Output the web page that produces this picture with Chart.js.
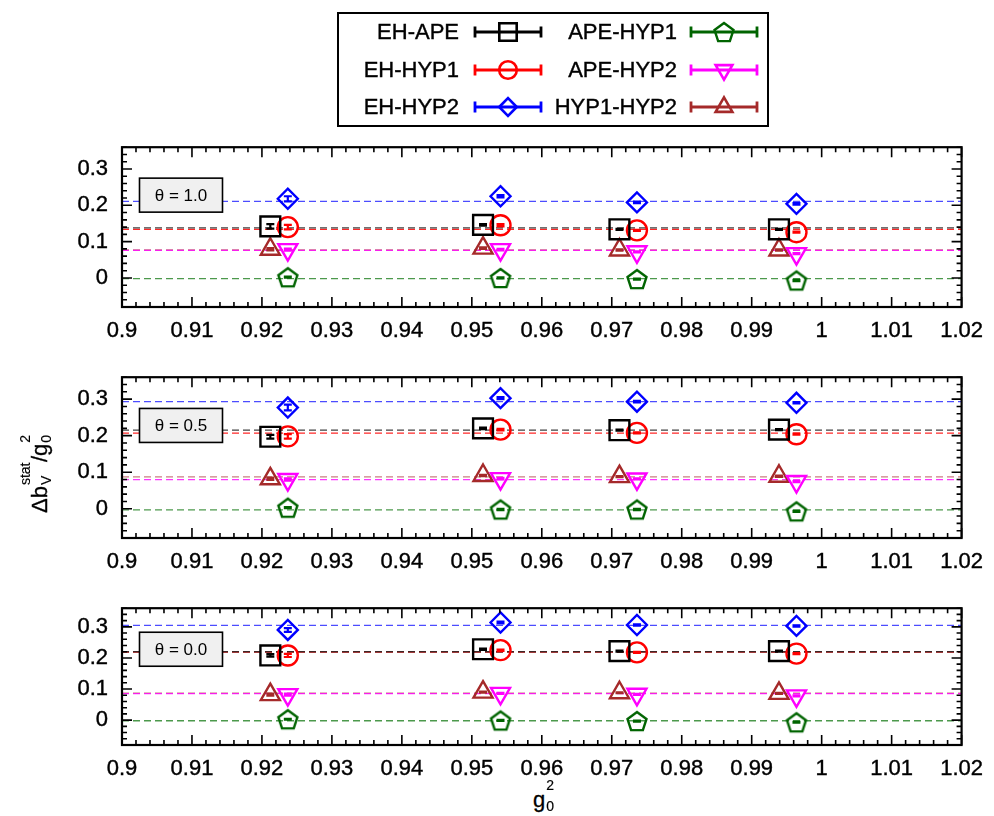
<!DOCTYPE html>
<html lang="en">
<head>
<meta charset="utf-8">
<title>Δb_V^stat / g0^2</title>
<script src="https://cdn.jsdelivr.net/npm/chart.js@4.4.1/dist/chart.umd.min.js"></script>
<style>
  html, body { margin: 0; padding: 0; background: #fff; }
  body { font-family: "Liberation Sans", Arial, sans-serif; color: #000; }
  #page { position: relative; width: 994px; height: 816px; overflow: hidden; }
  .panel { position: absolute; left: 0; }
  #legendBox { position: absolute; left: 337px; top: 12px; width: 428px; height: 111px; border: 2px solid #000; }
  #legendMarks { position: absolute; left: 0; top: 0; }
  .key { position: absolute; font-size: 22px; line-height: 22px; white-space: nowrap; -webkit-text-stroke: 0.4px #000; }
  #ytitle { position: absolute; left: 29px; top: 513px; font-size: 22px; line-height: 22px; white-space: nowrap;
            transform-origin: 0 0; transform: rotate(-90deg); -webkit-text-stroke: 0.3px #000; }
  #xtitle { position: absolute; left: 533px; top: 789px; font-size: 22px; line-height: 22px; white-space: nowrap; -webkit-text-stroke: 0.3px #000; }
  .ss { position: relative; display: inline-block; height: 1px; }
  .ss span { position: absolute; left: 1px; font-size: 14px; line-height: 14px; -webkit-text-stroke: 0.2px #000; }
  .ss .up { top: -28px; }
  .ss .dn { top: -7px; }
</style>
</head>
<body>
<div id="page">
  <div id="legendBox"></div>
  <canvas id="legendMarks" width="994" height="130"></canvas>
  <div id="legendText"></div>

  <canvas id="panelTheta10" class="panel" width="994" height="225" style="top:120px"></canvas>
  <canvas id="panelTheta05" class="panel" width="994" height="226" style="top:350px"></canvas>
  <canvas id="panelTheta00" class="panel" width="994" height="202" style="top:581px"></canvas>

  <div id="ytitle">Δb<span class="ss" style="width:24px"><span class="up">stat</span><span class="dn">V</span></span>/g<span class="ss" style="width:9px"><span class="up">2</span><span class="dn">0</span></span></div>
  <div id="xtitle">g<span class="ss" style="width:9px"><span class="up">2</span><span class="dn">0</span></span></div>
</div>

<script>
// g0^2 of the four ensembles. EH-APE and HYP1-HYP2 sit a little to the left
// so that the symbols do not cover each other.
const g0sq = [0.9237, 0.9541, 0.9736, 0.9964];
const g0sqShifted = [0.9212, 0.9516, 0.9711, 0.9939];

const seriesNames = ['EH-APE', 'EH-HYP1', 'EH-HYP2', 'APE-HYP1', 'APE-HYP2', 'HYP1-HYP2'];
const thetaLabels = ['θ = 1.0', 'θ = 0.5', 'θ = 0.0'];

// axes
const xRange = [0.9, 1.02];
const xMajorStep = 0.01, xMinorStep = 0.002;
const yRange = [-0.08, 0.36];
const yMajorStep = 0.1, yMinorStep = 0.02;

// theta = 1.0 : rows follow seriesNames
const dbTheta10 = [
    [0.142, 0.146, 0.134, 0.134],
    [0.140, 0.145, 0.131, 0.126],
    [0.218, 0.225, 0.208, 0.204],
    [0.002, 0.000, -0.003, -0.007],
    [0.078, 0.078, 0.072, 0.067],
    [0.079, 0.082, 0.077, 0.077]
];
const errTheta10 = [
    [0.006, 0.002, 0.0015, 0.0015],
    [0.006, 0.003, 0.0015, 0.0015],
    [0.007, 0.003, 0.002, 0.002],
    [0.0015, 0.0015, 0.0015, 0.0015],
    [0.003, 0.002, 0.0015, 0.0015],
    [0.003, 0.002, 0.0015, 0.0015]
];
const fitTheta10 = [0.138, 0.134, 0.211, -0.002, 0.076, 0.077];

// theta = 0.5
const dbTheta05 = [
    [0.197, 0.220, 0.215, 0.2165],
    [0.198, 0.2165, 0.2076, 0.204],
    [0.277, 0.3026, 0.293, 0.290],
    [0.003, -0.002, -0.002, -0.007],
    [0.080, 0.0825, 0.0816, 0.0745],
    [0.082, 0.091, 0.088, 0.089]
];
const errTheta05 = [
    [0.005, 0.002, 0.0015, 0.0015],
    [0.006, 0.002, 0.0015, 0.0015],
    [0.008, 0.003, 0.002, 0.002],
    [0.0015, 0.0015, 0.0015, 0.0015],
    [0.003, 0.002, 0.0015, 0.0015],
    [0.003, 0.002, 0.0015, 0.0015]
];
const fitTheta05 = [0.215, 0.207, 0.293, -0.003, 0.080, 0.087];

// theta = 0.0
const dbTheta00 = [
    [0.208, 0.228, 0.222, 0.222],
    [0.208, 0.225, 0.218, 0.214],
    [0.290, 0.314, 0.306, 0.303],
    [0.003, -0.001, -0.003, -0.007],
    [0.082, 0.086, 0.083, 0.078],
    [0.082, 0.090, 0.088, 0.086]
];
const errTheta00 = [
    [0.004, 0.002, 0.0015, 0.0015],
    [0.005, 0.002, 0.0015, 0.0015],
    [0.006, 0.003, 0.002, 0.002],
    [0.0015, 0.0015, 0.0015, 0.0015],
    [0.003, 0.002, 0.0015, 0.0015],
    [0.003, 0.002, 0.0015, 0.0015]
];
const fitTheta00 = [0.220, 0.219, 0.305, -0.002, 0.085, 0.087];

// symbol styles, same order as seriesNames
const colors = ['#000000', '#ff0000', '#0000ff', '#006400', '#ff00ff', '#a52a2a'];
const fitColors = ['rgba(0,0,0,0.75)', 'rgba(255,0,0,0.85)', 'rgba(0,0,255,0.7)',
                   'rgba(0,110,0,0.7)', 'rgba(255,0,255,0.8)', 'rgba(165,42,42,0.6)'];
const markerRadius = [14, 10, 10, 10, 11, 11];
const markerRotation = [0, 0, 0, 0, 180, 0];
const usesShiftedX = [true, false, false, false, false, true];

Chart.defaults.font.family = '"Liberation Sans", Arial, sans-serif';
Chart.defaults.color = '#000';

// hollow pentagon used as a point style
function makePentagon(color) {
    const c = document.createElement('canvas');
    c.width = 26; c.height = 26;
    const g = c.getContext('2d');
    g.strokeStyle = color;
    g.lineWidth = 2.4;
    g.beginPath();
    for (let k = 0; k < 5; k++) {
        const a = -Math.PI / 2 + k * 2 * Math.PI / 5;
        const px = 13 + 10 * Math.cos(a), py = 14 + 10 * Math.sin(a);
        if (k === 0) g.moveTo(px, py); else g.lineTo(px, py);
    }
    g.closePath();
    g.stroke();
    return c;
}

const pentagon = makePentagon(colors[3]);
const markerStyles = ['rect', 'circle', 'rectRot', pentagon, 'triangle', 'triangle'];

// error bars, frame with inward ticks on all four sides, and the theta box
const panelDecor = {
    id: 'panelDecor',
    afterDatasetsDraw(chart) {
        const ctx = chart.ctx, yScale = chart.scales.y;
        ctx.save();
        ctx.lineWidth = 2.2;
        chart.data.datasets.forEach((ds, i) => {
            if (!ds.errors) return;
            const meta = chart.getDatasetMeta(i);
            ctx.strokeStyle = ds.pointBorderColor;
            ctx.beginPath();
            meta.data.forEach((pt, j) => {
                const v = ds.data[j].y, e = ds.errors[j];
                const y1 = yScale.getPixelForValue(v - e), y2 = yScale.getPixelForValue(v + e);
                ctx.moveTo(pt.x, y1); ctx.lineTo(pt.x, y2);
                ctx.moveTo(pt.x - 4, y1); ctx.lineTo(pt.x + 4, y1);
                ctx.moveTo(pt.x - 4, y2); ctx.lineTo(pt.x + 4, y2);
            });
            ctx.stroke();
        });
        ctx.restore();
    },
    afterDraw(chart, args, opts) {
        const ctx = chart.ctx, a = chart.chartArea;
        const xs = chart.scales.x, ys = chart.scales.y;
        ctx.save();
        ctx.strokeStyle = '#000';
        ctx.lineWidth = 1.6;
        ctx.beginPath();

        const nx = Math.round((xs.max - xs.min) / xMinorStep);
        for (let k = 0; k <= nx; k++) {
            const v = xs.min + k * xMinorStep;
            const major = Math.abs(v / xMajorStep - Math.round(v / xMajorStep)) < 1e-6;
            const len = major ? 10 : 5;
            const px = xs.getPixelForValue(v);
            ctx.moveTo(px, a.bottom); ctx.lineTo(px, a.bottom - len);
            ctx.moveTo(px, a.top); ctx.lineTo(px, a.top + len);
        }
        const ny = Math.round((ys.max - ys.min) / yMinorStep);
        for (let k = 0; k <= ny; k++) {
            const v = ys.min + k * yMinorStep;
            const major = Math.abs(v / yMajorStep - Math.round(v / yMajorStep)) < 1e-6;
            const len = major ? 10 : 5;
            const py = ys.getPixelForValue(v);
            ctx.moveTo(a.left, py); ctx.lineTo(a.left + len, py);
            ctx.moveTo(a.right, py); ctx.lineTo(a.right - len, py);
        }
        ctx.stroke();

        ctx.lineWidth = 2.2;
        ctx.strokeRect(a.left, a.top, a.right - a.left, a.bottom - a.top);

        // theta label
        const cx = a.left + 59, cy = a.top + 0.3 * (a.bottom - a.top);
        ctx.fillStyle = '#f0f0f0';
        ctx.fillRect(cx - 41.5, cy - 17, 83, 34);
        ctx.lineWidth = 1.6;
        ctx.strokeRect(cx - 41.5, cy - 17, 83, 34);
        ctx.fillStyle = '#000';
        ctx.font = '17px "Liberation Sans", Arial, sans-serif';
        ctx.textAlign = 'center';
        ctx.textBaseline = 'middle';
        ctx.fillText(opts.label, cx, cy + 1);
        ctx.restore();
    }
};

function buildPanel(canvasId, values, errors, fits, label) {
    const datasets = [];

    // constant fits, drawn underneath the points
    fits.forEach((f, i) => {
        datasets.push({
            type: 'line',
            label: seriesNames[i] + ' fit',
            data: [{ x: xRange[0], y: f }, { x: xRange[1], y: f }],
            borderColor: fitColors[i],
            borderWidth: 1.3,
            borderDash: [7, 4],
            pointRadius: 0,
            order: 1
        });
    });

    values.forEach((row, i) => {
        const xs = usesShiftedX[i] ? g0sqShifted : g0sq;
        datasets.push({
            type: 'scatter',
            label: seriesNames[i],
            data: row.map((v, j) => ({ x: xs[j], y: v })),
            errors: errors[i],
            pointStyle: markerStyles[i],
            pointRotation: markerRotation[i],
            pointRadius: markerRadius[i],
            pointBorderWidth: 2.4,
            pointBorderColor: colors[i],
            pointBackgroundColor: 'rgba(0,0,0,0)',
            order: 0
        });
    });

    const tickFont = { size: 22 };
    const ctx = document.getElementById(canvasId).getContext('2d');
    return new Chart(ctx, {
        type: 'scatter',
        data: { datasets: datasets },
        options: {
            responsive: false,
            animation: false,
            events: [],
            layout: { padding: { top: 20, right: 27, left: 0, bottom: 0 } },
            scales: {
                x: {
                    type: 'linear',
                    min: xRange[0],
                    max: xRange[1],
                    grid: { display: false, drawTicks: false },
                    border: { display: false },
                    ticks: {
                        stepSize: xMajorStep,
                        autoSkip: false,
                        maxRotation: 0,
                        padding: 11,
                        font: tickFont,
                        textStrokeColor: '#000',
                        textStrokeWidth: 0.4,
                        callback: v => String(+v.toFixed(2))
                    },
                    afterFit: s => { s.height = 38; }
                },
                y: {
                    min: yRange[0],
                    max: yRange[1],
                    grid: { display: false, drawTicks: false },
                    border: { display: false },
                    ticks: {
                        stepSize: yMajorStep,
                        includeBounds: false,
                        padding: 14,
                        font: tickFont,
                        textStrokeColor: '#000',
                        textStrokeWidth: 0.4,
                        callback: v => {
                            const r = Math.round(v / yMajorStep) * yMajorStep;
                            return (Math.abs(v - r) < 1e-6 && r > -1e-6) ? String(+r.toFixed(1)) : '';
                        }
                    },
                    afterFit: s => { s.width = 122; }
                }
            },
            plugins: {
                legend: { display: false },
                tooltip: { enabled: false },
                panelDecor: { label: label }
            }
        },
        plugins: [panelDecor]
    });
}

// key: two columns, text on the left, error-bar sample with symbol on the right
function drawKey() {
    const textRight = [459, 677];
    const lineStart = [475, 691];
    const rowY = [32, 70, 107];
    const textTop = [20.7, 59.1, 96.4];
    const holder = document.getElementById('legendText');
    const ctx = document.getElementById('legendMarks').getContext('2d');

    seriesNames.forEach((name, i) => {
        const col = i < 3 ? 0 : 1, row = i % 3;
        const span = document.createElement('span');
        span.className = 'key';
        span.textContent = name;
        span.style.right = (994 - textRight[col]) + 'px';
        span.style.top = textTop[row] + 'px';
        holder.appendChild(span);

        const x1 = lineStart[col], x2 = x1 + 66, y = rowY[row];
        ctx.strokeStyle = colors[i];
        ctx.lineWidth = 2.8;
        ctx.beginPath();
        ctx.moveTo(x1, y); ctx.lineTo(x2, y);
        ctx.moveTo(x1, y - 5.5); ctx.lineTo(x1, y + 5.5);
        ctx.moveTo(x2, y - 5.5); ctx.lineTo(x2, y + 5.5);
        ctx.stroke();
        ctx.fillStyle = 'rgba(0,0,0,0)';
        ctx.lineWidth = 2.6;
        Chart.helpers.drawPoint(ctx, {
            pointStyle: markerStyles[i],
            rotation: markerRotation[i],
            radius: markerRadius[i] * 0.88,
            borderWidth: 2.6
        }, (x1 + x2) / 2, y);
    });
}

document.addEventListener('DOMContentLoaded', () => {
    buildPanel('panelTheta10', dbTheta10, errTheta10, fitTheta10, thetaLabels[0]);
    buildPanel('panelTheta05', dbTheta05, errTheta05, fitTheta05, thetaLabels[1]);
    buildPanel('panelTheta00', dbTheta00, errTheta00, fitTheta00, thetaLabels[2]);
    drawKey();
});
</script>
</body>
</html>
